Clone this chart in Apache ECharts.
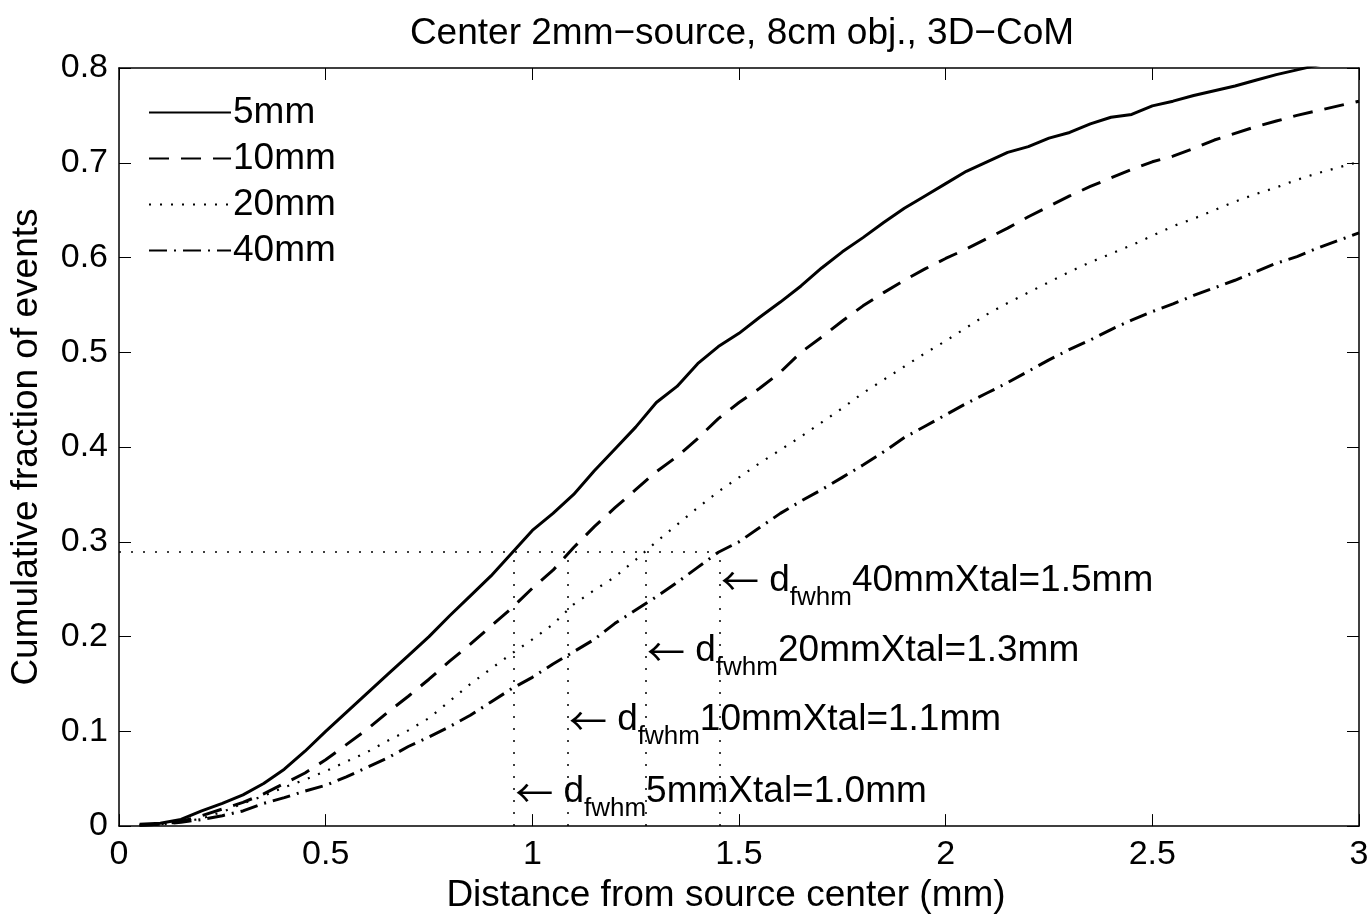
<!DOCTYPE html>
<html>
<head>
<meta charset="utf-8">
<script src="https://cdn.jsdelivr.net/npm/echarts@6/dist/echarts.min.js"></script>
<style>
html,body{margin:0;padding:0;background:#fff;}
#chart{width:1372px;height:919px;}
</style>
</head>
<body>
<div id="chart"></div>
<script>
// ---- data ----
const xValues = [0.05,0.10,0.15,0.20,0.25,0.30,0.35,0.40,0.45,0.50,0.55,0.60,0.65,0.70,0.75,0.80,0.85,0.90,0.95,1.00,
  1.05,1.10,1.15,1.20,1.25,1.30,1.35,1.40,1.45,1.50,1.55,1.60,1.65,1.70,1.75,1.80,1.85,1.90,1.95,2.00,
  2.05,2.10,2.15,2.20,2.25,2.30,2.35,2.40,2.45,2.50,2.55,2.60,2.65,2.70,2.75,2.80,2.85,2.90,2.95,3.00];

const y5mm = [0.002,0.003,0.007,0.016,0.024,0.033,0.045,0.060,0.079,0.100,0.120,0.140,0.160,0.180,0.200,0.222,0.243,0.264,0.288,0.312,
  0.330,0.350,0.375,0.398,0.421,0.447,0.464,0.488,0.506,0.520,0.537,0.553,0.570,0.589,0.606,0.621,0.637,0.652,0.665,0.678,
  0.691,0.701,0.711,0.717,0.726,0.732,0.741,0.748,0.751,0.760,0.765,0.771,0.776,0.781,0.787,0.793,0.798,0.803,0.808,0.813];

const y10mm = [0.001,0.002,0.005,0.011,0.018,0.025,0.034,0.045,0.056,0.070,0.086,0.102,0.120,0.137,0.155,0.174,0.192,0.211,0.230,0.251,
  0.270,0.294,0.316,0.336,0.355,0.374,0.390,0.409,0.430,0.447,0.462,0.479,0.500,0.516,0.533,0.549,0.563,0.576,0.588,0.599,
  0.609,0.620,0.631,0.643,0.654,0.665,0.675,0.684,0.693,0.701,0.707,0.715,0.724,0.731,0.738,0.744,0.750,0.755,0.760,0.765];

const y20mm = [0.001,0.002,0.004,0.008,0.015,0.024,0.032,0.041,0.049,0.058,0.068,0.078,0.090,0.101,0.114,0.132,0.150,0.166,0.182,0.197,
  0.213,0.234,0.249,0.263,0.281,0.300,0.318,0.336,0.353,0.368,0.383,0.397,0.411,0.426,0.441,0.457,0.471,0.485,0.499,0.512,
  0.526,0.540,0.552,0.563,0.574,0.585,0.595,0.604,0.613,0.623,0.633,0.641,0.650,0.659,0.667,0.674,0.682,0.689,0.695,0.701];

const y40mm = [0.001,0.002,0.004,0.007,0.011,0.016,0.024,0.030,0.037,0.043,0.052,0.062,0.072,0.084,0.094,0.105,0.117,0.131,0.145,0.157,
  0.171,0.184,0.197,0.214,0.228,0.242,0.257,0.273,0.289,0.300,0.315,0.330,0.343,0.355,0.368,0.381,0.395,0.410,0.422,0.434,
  0.446,0.457,0.468,0.480,0.492,0.503,0.513,0.524,0.534,0.543,0.551,0.560,0.568,0.576,0.585,0.594,0.601,0.610,0.618,0.626];

const seriesNames = ['5mm','10mm','20mm','40mm'];

// FWHM reference marks
const fwhmLevel = 0.29;
const fwhmX = [0.956, 1.086, 1.275, 1.454];
const fwhmLabelY = [0.042, 0.118, 0.191, 0.265];
const fwhmCrystal = ['5mm','10mm','20mm','40mm'];
const fwhmValue = ['1.0mm','1.1mm','1.3mm','1.5mm'];

const xTicks = [0, 0.5, 1, 1.5, 2, 2.5, 3];
const yTicks = [0, 0.1, 0.2, 0.3, 0.4, 0.5, 0.6, 0.7, 0.8];

// ---- chart ----
const FONT = '"Liberation Sans", Arial, Helvetica, sans-serif';
const FS_TICK = 34;
const FS = 37;
const pair = (ys) => xValues.map((x, i) => [x, ys[i]]);

const refLines = [[{coord:[0, fwhmLevel]}, {coord:[fwhmX[3], fwhmLevel]}]];
fwhmX.forEach(x => refLines.push([{coord:[x, 0]}, {coord:[x, fwhmLevel]}]));

const annData = fwhmX.map((x, i) => ({
  value: [x, fwhmLabelY[i]],
  crystal: fwhmCrystal[i],
  val: fwhmValue[i]
}));

const chart = echarts.init(document.getElementById('chart'), null, {renderer: 'canvas'});

const xMin = xTicks[0], xMax = xTicks[xTicks.length - 1];
const yMin = yTicks[0], yMax = yTicks[yTicks.length - 1];

const axisCommonX = {
  type: 'value', min: xMin, max: xMax, interval: xTicks[1] - xTicks[0],
  axisLine: {show: true, onZero: false, lineStyle: {color: '#000', width: 1.5}},
  axisTick: {show: true, inside: true, length: 12, lineStyle: {color: '#000', width: 1}},
  splitLine: {show: false}
};
const axisCommonY = {
  type: 'value', min: yMin, max: yMax, interval: yTicks[1] - yTicks[0],
  axisLine: {show: true, onZero: false, lineStyle: {color: '#000', width: 1.5}},
  axisTick: {show: true, inside: true, length: 12, lineStyle: {color: '#000', width: 1}},
  splitLine: {show: false}
};

const lineSeries = (name, ys, type, width) => ({
  name, type: 'line', data: pair(ys), symbol: 'none', showSymbol: false,
  smooth: false, clip: true, animation: false,
  lineStyle: {color: '#000', width: width, type: type, cap: 'butt'},
  itemStyle: {color: '#000'},
  emphasis: {disabled: true}
});

const option = {
  backgroundColor: '#fff',
  animation: false,
  title: {
    text: 'Center 2mm\u2212source, 8cm obj., 3D\u2212CoM',
    left: 737, textAlign: 'center', top: 10,
    textStyle: {fontFamily: FONT, fontSize: FS, fontWeight: 'normal', color: '#000'}
  },
  grid: {left: 119, top: 68, right: 13, bottom: 89, containLabel: false},
  legend: {
    show: true, data: seriesNames, orient: 'vertical', left: 143, top: 89,
    itemWidth: 82, itemHeight: 26, itemGap: 9,
    itemStyle: {opacity: 0},
    textStyle: {fontFamily: FONT, fontSize: FS, color: '#000', padding: [0,0,0,-3]}
  },
  xAxis: [
    Object.assign({}, axisCommonX, {
      position: 'bottom',
      name: 'Distance from source center (mm)', nameLocation: 'middle', nameGap: 42,
      nameTextStyle: {fontFamily: FONT, fontSize: FS, color: '#000', padding: [0, 26, 0, 0]},
      axisLabel: {show: true, margin: 12, fontFamily: FONT, fontSize: FS_TICK, color: '#000'}
    }),
    Object.assign({}, axisCommonX, {position: 'top', axisLabel: {show: false}})
  ],
  yAxis: [
    Object.assign({}, axisCommonY, {
      position: 'left',
      name: 'Cumulative fraction of events', nameLocation: 'middle', nameGap: 74,
      nameTextStyle: {fontFamily: FONT, fontSize: FS, color: '#000'},
      axisLabel: {show: true, margin: 11, fontFamily: FONT, fontSize: FS_TICK, color: '#000'}
    }),
    Object.assign({}, axisCommonY, {position: 'right', axisLabel: {show: false}})
  ],
  series: [
    Object.assign(lineSeries('5mm', y5mm, 'solid', 3), {
      markLine: {
        silent: true, symbol: ['none','none'], animation: false,
        label: {show: false},
        lineStyle: {color: '#000', width: 1.5, type: [2, 10]},
        emphasis: {disabled: true},
        data: refLines
      }
    }),
    lineSeries('10mm', y10mm, [20, 12], 3),
    lineSeries('20mm', y20mm, [2, 9], 2.2),
    lineSeries('40mm', y40mm, [18, 7, 2, 7], 3),
    {
      name: 'annotations', type: 'scatter', data: annData, symbolSize: 0,
      silent: true, animation: false,
      itemStyle: {opacity: 1, color: '#000'},
      emphasis: {disabled: true},
      label: {
        show: true, position: 'right', distance: 1, offset: [0, 23], color: '#000', opacity: 1,
        formatter: (p) => '{a|\u2190}{t| d}{s|fwhm}{t|' + p.data.crystal + 'Xtal=' + p.data.val + '}',
        rich: {
          a: {fontFamily: '"Noto Sans CJK JP", "Noto Sans CJK SC", sans-serif', fontSize: 38, color: '#000', lineHeight: 36, verticalAlign: 'top'},
          t: {fontFamily: FONT, fontSize: FS, color: '#000', lineHeight: 36, verticalAlign: 'top'},
          s: {fontFamily: FONT, fontSize: 26, color: '#000', lineHeight: 72}
        }
      }
    }
  ]
};
chart.setOption(option);
</script>
</body>
</html>
